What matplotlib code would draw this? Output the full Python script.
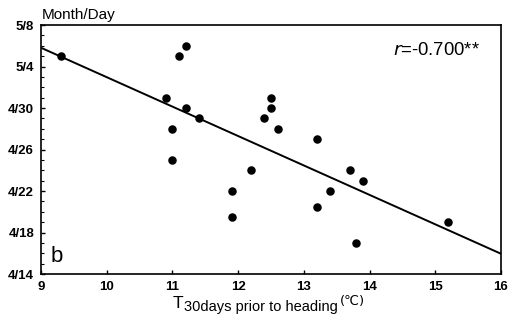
import numpy as np
import matplotlib
matplotlib.use('Agg')
import matplotlib.pyplot as plt
from matplotlib.ticker import MultipleLocator

# mean temperature 30 days before heading (deg C)
temp = [9.3, 10.9, 11.0, 11.0, 11.1, 11.2, 11.2, 11.4, 11.9, 11.9, 12.2,
        12.4, 12.5, 12.5, 12.6, 13.2, 13.2, 13.4, 13.7, 13.8, 13.9, 15.2]
# heading date as day counted from April 0 (31 = May 1)
heading = [35, 31, 28, 25, 35, 36, 30, 29, 22, 19.5, 24,
           29, 31, 30, 28, 27, 20.5, 22, 24, 17, 23, 19]

ytick_pos = [14, 18, 22, 26, 30, 34, 38]
ytick_labels = ['4/14', '4/18', '4/22', '4/26', '4/30', '5/4', '5/8']
xticks = [9, 10, 11, 12, 13, 14, 15, 16]

plt.rcParams['font.family'] = ['Liberation Sans', 'DejaVu Sans']

fig = plt.figure(figsize=(5.15, 3.27), dpi=100)
ax = fig.add_axes([0.0796, 0.162, 0.8932, 0.7615])

ax.scatter(temp, heading, s=26, color='black', zorder=3)

slope, icept = np.polyfit(temp, heading, 1)
xl = np.array([9, 16])
ax.plot(xl, slope * xl + icept, color='black', lw=1.4)

ax.set_xlim(9, 16)
ax.set_ylim(14, 38)
ax.set_xticks(xticks)
ax.set_yticks(ytick_pos)
ax.set_yticklabels(ytick_labels)
ax.yaxis.set_minor_locator(MultipleLocator(1))
ax.tick_params(direction='in', length=3, width=1, labelsize=9.5, pad=5)
ax.tick_params(which='minor', direction='in', length=2, width=0.8)
for lab in ax.get_xticklabels() + ax.get_yticklabels():
    lab.set_fontweight('bold')
for sp in ax.spines.values():
    sp.set_linewidth(1.2)

fig.text(0.082, 0.955, 'Month/Day', fontsize=11, ha='left', va='center')
ax.text(0.02, 0.07, 'b', transform=ax.transAxes, fontsize=16, ha='left', va='center')
ax.text(0.954, 0.896, '$r$=-0.700**', transform=ax.transAxes, fontsize=13.3,
        ha='right', va='center')

# x label: large T with a lowered "30days prior to heading" and raised unit
fig.text(0.336, 0.072, 'T', fontsize=12.5, ha='left', va='center')
fig.text(0.357, 0.060, '30days prior to heading', fontsize=10.5, ha='left', va='center')
fig.text(0.660, 0.078, '(\u2103)', fontsize=9.5, ha='left', va='center',
         family=['DejaVu Sans'])

fig.savefig('out.png', dpi=100)
